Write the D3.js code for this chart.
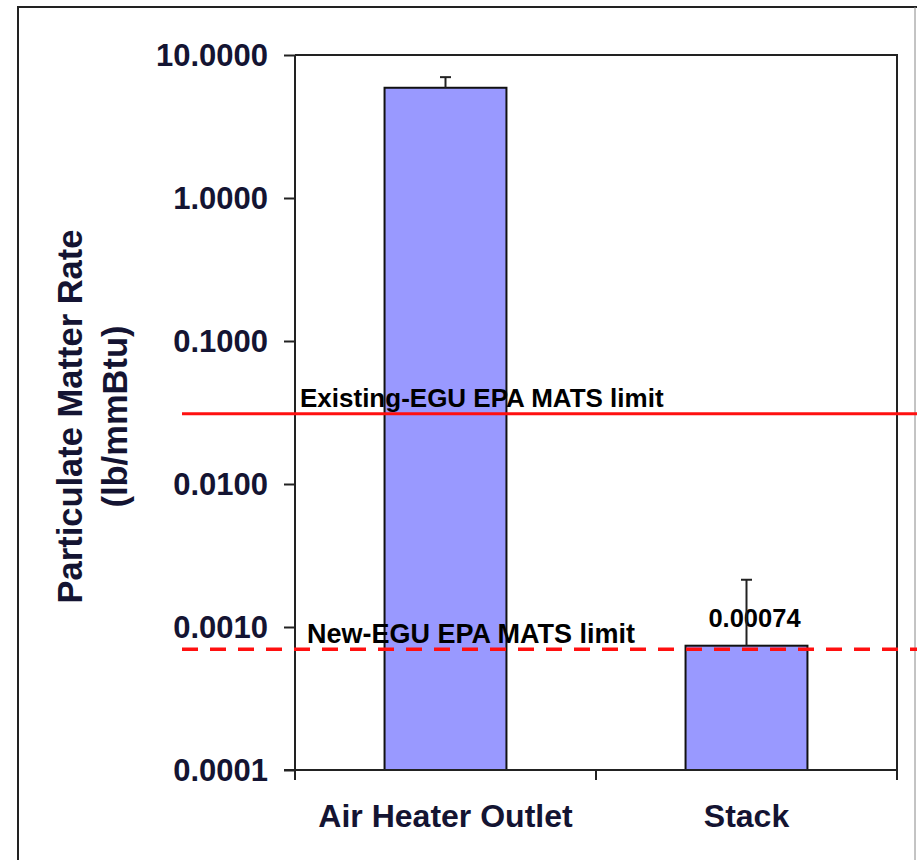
<!DOCTYPE html>
<html>
<head>
<meta charset="utf-8">
<script src="https://cdn.jsdelivr.net/npm/d3@7"></script>
<style>
  html, body { margin: 0; padding: 0; background: #fff; }
  svg { display: block; }
  text { font-family: "Liberation Sans", Arial, Helvetica, sans-serif; font-weight: bold; }
</style>
</head>
<body>
<svg id="chart" width="917" height="860"></svg>
<script>
// Particulate matter emission rate by sampling location (log scale)
const categories = ["Air Heater Outlet", "Stack"];
const pmRate = [5.9, 0.00074];          // lb/mmBtu
const pmErrorUp = [1.1, 0.0014];        // upper error bar
const valueLabels = [null, "0.00074"];
const yTicks = [10, 1, 0.1, 0.01, 0.001, 0.0001];
const limitNames = ["Existing-EGU EPA MATS limit", "New-EGU EPA MATS limit"];
const limitValues = [0.031, 0.0007];
const limitDashed = [false, true];

const svg = d3.select("#chart");
const plot = { left: 295, right: 897, top: 55, bottom: 770 };

// outer frame
svg.append("path")
  .attr("d", "M18,860 L18,7 L917,7")
  .attr("fill", "none").attr("stroke", "#222").attr("stroke-width", 2);
svg.append("line")
  .attr("x1", 915).attr("x2", 915).attr("y1", 7).attr("y2", 860)
  .attr("stroke", "#888").attr("stroke-width", 1);

const y = d3.scaleLog().domain([0.0001, 10]).range([plot.bottom, plot.top]);
const x = d3.scaleBand().domain(categories)
  .range([plot.left, plot.right]).paddingInner(0.595).paddingOuter(0.2975);

const data = categories.map((c, i) => ({ c, v: pmRate[i], e: pmErrorUp[i], label: valueLabels[i] }));

// bars
svg.append("g").selectAll("rect").data(data).join("rect")
  .attr("x", d => x(d.c))
  .attr("y", d => y(d.v))
  .attr("width", x.bandwidth())
  .attr("height", d => plot.bottom - y(d.v))
  .attr("fill", "#9999ff")
  .attr("stroke", "#111").attr("stroke-width", 2);

// value label
svg.append("g").selectAll("text").data(data.filter(d => d.label)).join("text")
  .attr("x", d => x(d.c) + x.bandwidth() / 2 + 8)
  .attr("y", d => y(d.v) - 19)
  .attr("text-anchor", "middle")
  .attr("font-size", 25.5)
  .attr("fill", "#000")
  .text(d => d.label);

// upper error bars
const eb = svg.append("g").attr("stroke", "#222").attr("stroke-width", 2);
data.forEach(d => {
  const cx = x(d.c) + x.bandwidth() / 2;
  eb.append("line").attr("x1", cx).attr("x2", cx)
    .attr("y1", y(d.v)).attr("y2", y(d.v + d.e));
  eb.append("line").attr("x1", cx - 5.5).attr("x2", cx + 5.5)
    .attr("y1", y(d.v + d.e)).attr("y2", y(d.v + d.e));
});

// plot frame: top and right edges
svg.append("path")
  .attr("d", `M${plot.left},${plot.top} L${plot.right},${plot.top} L${plot.right},${plot.bottom}`)
  .attr("fill", "none").attr("stroke", "#222").attr("stroke-width", 2);

// y axis
const yAxis = svg.append("g").attr("transform", `translate(${plot.left},0)`)
  .call(d3.axisLeft(y).tickValues(yTicks).tickFormat(d3.format(".4f"))
    .tickSize(11).tickPadding(16).tickSizeOuter(0));
yAxis.select(".domain").remove();
yAxis.selectAll(".tick line").attr("stroke", "#222").attr("stroke-width", 2);
yAxis.selectAll(".tick text")
  .attr("font-size", 31).attr("fill", "#141432").attr("dy", "0.34em")
  .style("font-family", '"Liberation Sans", Arial, sans-serif').style("font-weight", "bold");
svg.append("line")
  .attr("x1", plot.left).attr("x2", plot.left)
  .attr("y1", plot.top).attr("y2", plot.bottom + 10)
  .attr("stroke", "#222").attr("stroke-width", 2);

// x axis
const xAxis = svg.append("g").attr("transform", `translate(0,${plot.bottom})`)
  .call(d3.axisBottom(x).tickSize(0).tickSizeOuter(0));
xAxis.select(".domain").remove();
xAxis.selectAll(".tick text")
  .attr("y", 57).attr("dy", 0)
  .attr("font-size", 32).attr("fill", "#141432")
  .style("font-family", '"Liberation Sans", Arial, sans-serif').style("font-weight", "bold");
svg.append("line")
  .attr("x1", plot.left - 11).attr("x2", plot.right)
  .attr("y1", plot.bottom).attr("y2", plot.bottom)
  .attr("stroke", "#222").attr("stroke-width", 2);
// category boundary ticks
const gap = x.step() - x.bandwidth();
const bounds = [x(categories[0]) - gap / 2].concat(categories.map(c => x(c) + x.bandwidth() + gap / 2));
svg.append("g").selectAll("line").data(bounds).join("line")
  .attr("x1", d => d).attr("x2", d => d)
  .attr("y1", plot.bottom).attr("y2", plot.bottom + 10)
  .attr("stroke", "#222").attr("stroke-width", 2);

// regulatory limit lines
limitValues.forEach((v, i) => {
  svg.append("line")
    .attr("x1", 182).attr("x2", 917)
    .attr("y1", y(v)).attr("y2", y(v))
    .attr("stroke", "#ff1010")
    .attr("stroke-width", limitDashed[i] ? 3.5 : 3)
    .attr("stroke-dasharray", limitDashed[i] ? "16,12" : null);
  svg.append("text")
    .attr("x", limitDashed[i] ? 307 : 300)
    .attr("y", y(v) - (limitDashed[i] ? 6 : 7))
    .attr("font-size", limitDashed[i] ? 27 : 26).attr("fill", "#000")
    .text(limitNames[i]);
});

// y axis title
const yt = svg.append("text")
  .attr("transform", `translate(0,${(plot.top + plot.bottom) / 2 + 4}) rotate(-90)`)
  .attr("text-anchor", "middle").attr("font-size", 34.5).attr("fill", "#141432");
yt.append("tspan").attr("x", 0).attr("y", 82).text("Particulate Matter Rate");
yt.append("tspan").attr("x", 0).attr("y", 127).text("(lb/mmBtu)");
</script>
</body>
</html>
